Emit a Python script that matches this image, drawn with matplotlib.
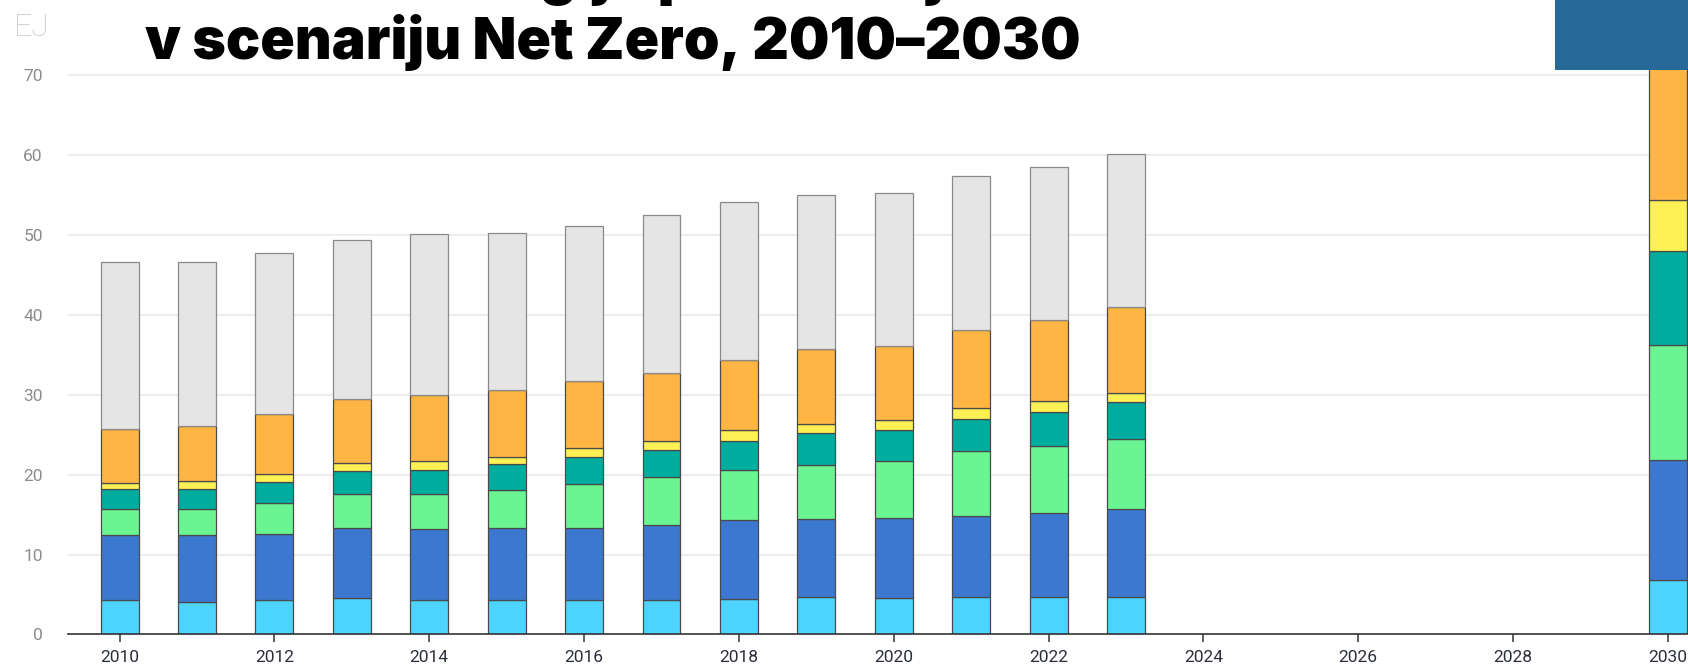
import numpy as np
import matplotlib.pyplot as plt
from matplotlib.patches import Rectangle

years = [2010, 2011, 2012, 2013, 2014, 2015, 2016, 2017, 2018, 2019, 2020, 2021, 2022, 2023, 2030]

# EJ, bottom to top
cyan = [4.26, 4.10, 4.26, 4.60, 4.26, 4.26, 4.26, 4.26, 4.43, 4.70, 4.51, 4.72, 4.72, 4.72, 6.85]
blue = [8.20, 8.36, 8.37, 8.74, 8.91, 9.11, 9.11, 9.49, 9.86, 9.78, 10.03, 10.15, 10.53, 10.94, 14.95]
green = [3.26, 3.26, 3.84, 4.22, 4.39, 4.68, 5.43, 5.97, 6.35, 6.72, 7.22, 8.15, 8.35, 8.82, 14.40]
teal = [2.51, 2.55, 2.68, 2.88, 3.09, 3.30, 3.47, 3.43, 3.60, 3.97, 3.85, 4.01, 4.30, 4.59, 11.80]
yellow = [0.75, 0.92, 0.96, 1.09, 1.09, 0.88, 1.13, 1.13, 1.33, 1.13, 1.25, 1.29, 1.34, 1.21, 6.35]
orange = [6.77, 6.90, 7.44, 7.90, 8.19, 8.40, 8.32, 8.52, 8.86, 9.45, 9.27, 9.82, 10.15, 10.78, 22.0]
grey = [20.91, 20.57, 20.19, 19.98, 20.20, 19.68, 19.47, 19.69, 19.69, 19.28, 19.13, 19.25, 19.09, 19.09, 0.0]

series = [cyan, blue, green, teal, yellow, orange, grey]
colors = ['#4cd4ff', '#3d78d0', '#6af592', '#00ac9d', '#fff155', '#feb544', '#e5e5e5']
edges = ['#4a4a4a'] * 6 + ['#8a8a8a']

xticks = [2010, 2012, 2014, 2016, 2018, 2020, 2022, 2024, 2026, 2028, 2030]
yticks = [0, 10, 20, 30, 40, 50, 60, 70]

fig = plt.figure(figsize=(16.88, 6.66), dpi=100)
ax = fig.add_axes([0.0401, 0.0473, 0.9599, 0.9527])

bottom = np.zeros(len(years))
for vals, c, ec in zip(series, colors, edges):
    ax.bar(years, vals, width=0.49, bottom=bottom, color=c, edgecolor=ec, linewidth=0.9, zorder=3)
    bottom = bottom + np.array(vals)

ax.set_xlim(2009.33, 2030.26)
ax.set_ylim(0, 79.45)
ax.set_yticks(yticks)
ax.set_xticks(xticks)
ax.set_xticklabels([str(x) for x in xticks], fontsize=12.5, color='#2b2f3a', family='Roboto')
ax.set_yticklabels([str(y) for y in yticks], fontsize=12.5, color='#8c8c8c', family='Roboto')
ax.tick_params(axis='y', length=0, pad=18)
ax.tick_params(axis='x', length=6, width=1.1, color='#333333', pad=5)
for y in yticks[1:]:
    ax.axhline(y, color='#e8e8e8', lw=1.1, zorder=1)
for s in ['top', 'right', 'left']:
    ax.spines[s].set_visible(False)
ax.spines['bottom'].set_color('#333333')
ax.spines['bottom'].set_linewidth(1.2)
ax.spines['bottom'].set_zorder(4)

fig.text(0.086, 1 + 6 / 666, 'Oskrba z energijo po sektorjih', fontsize=41, fontweight='black',
         family='Inter', color='black', va='baseline', ha='left')
fig.text(0.086, 1 - 59 / 666, 'v scenariju Net Zero, 2010–2030', fontsize=41, fontweight='black',
         family='Inter', color='black', va='baseline', ha='left')
fig.text(0.008, 1 - 36 / 666, 'EJ', fontsize=23, color='#c8c8c8', family='Roboto',
         fontweight='light', va='baseline', ha='left')

fig.patches.append(Rectangle((0.9212, 0.8955), 0.0788, 0.1045, transform=fig.transFigure,
                             facecolor='#276a9a', edgecolor='none', zorder=10))

plt.savefig('out.png', dpi=100)
